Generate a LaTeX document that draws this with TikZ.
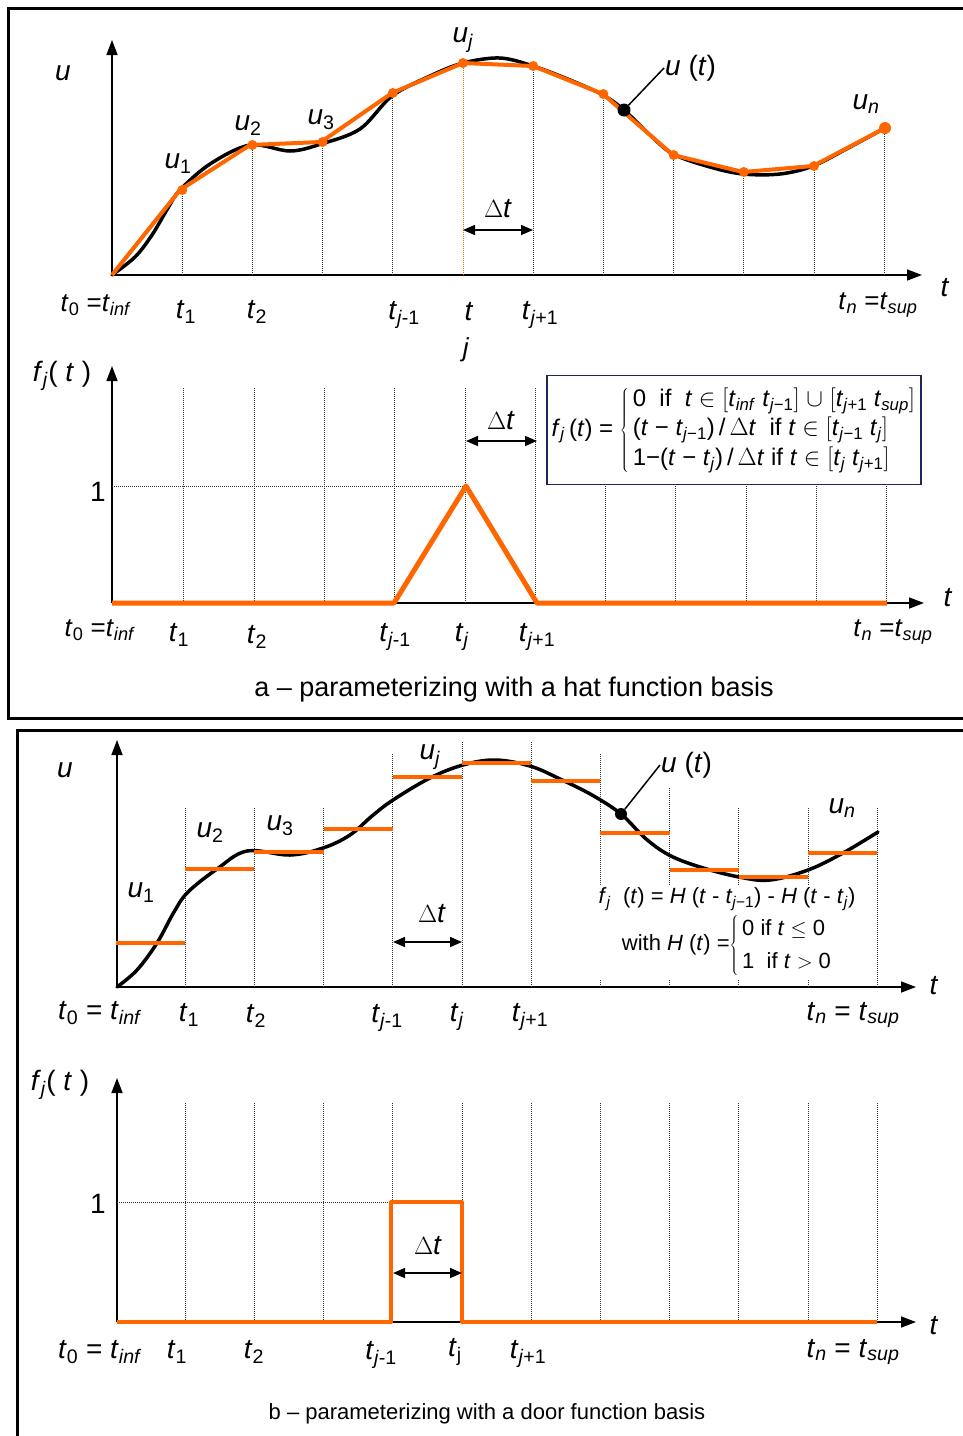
\documentclass[tikz,border=0pt]{standalone}
\usepackage{fontspec}
\setmainfont{Liberation Sans}
\usetikzlibrary{arrows.meta, positioning, calc}
\definecolor{BasisOrange}{HTML}{FF6600}
\definecolor{SignalBlack}{HTML}{000000}
\definecolor{BoxNavy}{HTML}{23235E}
\definecolor{GridGray}{HTML}{333333}
\newcommand{\tvar}[1]{\textit{t}\textsubscript{#1}}
\newcommand{\uvar}[1]{\textit{u}\textsubscript{#1}}
\tikzset{
    panelframe/.style={
        line width=3pt,
        SignalBlack
    },
    axisline/.style={
        line width=1.5pt,
        -{Triangle[length=15pt,width=11pt]}
    },
    gridline/.style={
        densely dotted,
        line width=1pt,
        GridGray
    },
    orangeline/.style={
        line width=4pt,
        BasisOrange,
        line join=round
    },
    ucurve/.style={
        line width=3.5pt,
        SignalBlack,
        line cap=round
    },
    knot/.style={
        circle,
        fill=BasisOrange,
        inner sep=0pt,
        minimum size=10pt
    },
    dtarrow/.style={
        {Triangle[length=12pt,width=10pt]}-{Triangle[length=12pt,width=10pt]},
        line width=1.5pt
    },
    lbl/.style={
        font=\fontsize{28}{32}\selectfont,
        inner sep=1pt
    },
    smalllbl/.style={
        font=\fontsize{26}{30}\selectfont,
        inner sep=1pt
    },
    formula/.style={
        font=\fontsize{22}{26}\selectfont,
        align=left,
        inner sep=2pt
    },
    capt/.style={
        font=\fontsize{27}{31}\selectfont
    }
}

\begin{document}
\begin{tikzpicture}[x=1pt, y=-1pt]
        \useasboundingbox (0,0) rectangle (963,1436);

        % Panel a frame
        \draw[panelframe] (963,8) -- (8,8) -- (8,718) -- (963,718);

        % Panel a, upper graph: axes
        \coordinate (aO) at (112,275);
        \coordinate (aTop) at (112,40);
        \coordinate (aRight) at (922,275);
        \draw[axisline] (aO) -- (aTop);
        \draw[axisline] (aO) -- (aRight);

        % Grid lines up to the knots
        \foreach \k/\y in {1/190, 2/145, 3/142, 4/93, 6/66, 7/94, 8/155, 9/172, 10/166, 11/128}
            \draw[gridline] ({112+70.2*\k},275) -- ({112+70.2*\k},\y);
        \draw[gridline, BasisOrange] (463,275) -- (463,63);

        % Signal u(t) and its piecewise linear approximation
        \draw[ucurve] plot[smooth, tension=0.55] coordinates {(112,275) (135,257) (152,235) (168,208) (180,190)
            (210,164) (250,145) (290,151) (321,144) (360,129) (392,96) (430,76) (463,63) (500,58) (533,66)
            (570,80) (603,95) (624,110) (650,135) (673,154) (710,167) (743,174) (780,174) (813,166)
            (850,147) (885,128)};
        \draw[orangeline] (112,275) -- (180,190) -- (250,145) -- (321,142) -- (392,93) -- (463,63)
            -- (533,66) -- (603,94) -- (673,155) -- (743,172) -- (813,166) -- (885,128);
        \foreach \k/\y in {1/190, 2/145, 3/142, 4/93, 5/63, 6/66, 7/94, 8/155, 9/172, 10/166}
            \node[knot] (ak\k) at ({112+70.2*\k},\y) {};
        \node[knot, minimum size=12pt] (akn) at (885,128) {};
        \node[circle, fill=SignalBlack, inner sep=0pt, minimum size=13pt] (adot) at (624,110) {};

        % Labels of the upper graph
        \node[lbl] (au) at (63,73) {\textit{u}};
        \node[lbl] (au1) at (178,164) {\uvar{1}};
        \node[lbl] (au2) at (248,126) {\uvar{2}};
        \node[lbl] (au3) at (321,120) {\uvar{3}};
        \node[lbl] (auj) at (463,40) {\uvar{\textit{j}}};
        \node[lbl] (aun) at (866,104) {\uvar{\textit{n}}};
        \node[lbl, anchor=west] (aut) at (664,68) {\textit{u} (\textit{t})};
        \draw[line width=1.5pt] (adot) -- (aut.west);
        \node[lbl] (at) at (945,288) {\textit{t}};
        \node[smalllbl] (at0) at (96,305) {\tvar{0} =\tvar{\textit{inf}}};
        \node[lbl] (at1) at (186,312) {\tvar{1}};
        \node[lbl] (at2) at (257,312) {\tvar{2}};
        \node[lbl] (atjm) at (404,315) {\tvar{\textit{j}-1}};
        \node[lbl] (atj) at (469,312) {\textit{t}};
        \node[smalllbl] (atjsub) at (466,350) {\textit{j}};
        \node[lbl] (atjp) at (540,315) {\tvar{\textit{j}+1}};
        \node[smalllbl] (atn) at (878,305) {\tvar{\textit{n}} =\tvar{\textit{sup}}};

        % Time step
        \coordinate (adtl) at (463,230);
        \coordinate (adtr) at (533,230);
        \draw[dtarrow] (adtl) -- (adtr);
        \node[lbl] (adt) at (498,209) {$\Delta$\textit{t}};

        % Panel a, lower graph: axes
        \coordinate (bO) at (112,603);
        \coordinate (bTop) at (112,366);
        \coordinate (bRight) at (924,603);
        \draw[axisline] (bO) -- (bTop);
        \draw[axisline] (bO) -- (bRight);
        \foreach \k in {1,...,11}
            \draw[gridline] ({113.5+70.3*\k},603) -- ({113.5+70.3*\k},388);
        \draw[gridline] (112,486) -- (466,486);

        % Formula box
        \node[draw=BoxNavy, line width=1.5pt, fill=white, minimum width=374pt, minimum height=109pt,
            inner sep=2pt, font=\fontsize{24}{28}\selectfont] (hatbox) at (734,430) {%
            \textit{f}\textsubscript{\textit{j}}\,(\textit{t}) =
            $\left\{\renewcommand{\arraystretch}{1.05}\begin{tabular}{@{\,}l@{}}
            0 \ if \ \textit{t} $\in$ $\bigl[$\tvar{\textit{inf}} \tvar{\textit{j}−1}$\bigr]$ $\cup$ $\bigl[$\tvar{\textit{j}+1} \tvar{\textit{sup}}$\bigr]$\\
            (\textit{t} − \tvar{\textit{j}−1})\,/\,$\Delta$\textit{t} \ if \textit{t} $\in$ $\bigl[$\tvar{\textit{j}−1} \tvar{\textit{j}}$\bigr]$\\
            1−(\textit{t} − \tvar{\textit{j}})\,/\,$\Delta$\textit{t} if \textit{t} $\in$ $\bigl[$\tvar{\textit{j}} \tvar{\textit{j}+1}$\bigr]$
            \end{tabular}\right.$};

        % Hat function
        \draw[orangeline, line width=5pt] (112,603) -- (394,603) -- (466,486) -- (537,603) -- (887,603);
        \coordinate (bdtl) at (466,441);
        \coordinate (bdtr) at (537,441);
        \draw[dtarrow] (bdtl) -- (bdtr);
        \node[lbl] (bdt) at (501,421) {$\Delta$\textit{t}};

        % Labels of the lower graph
        \node[lbl] (bf) at (62,376) {\textit{f}\textsubscript{\textit{j}}( \textit{t} )};
        \node[lbl] (bone) at (98,492) {1};
        \node[lbl] (bt) at (948,598) {\textit{t}};
        \node[smalllbl] (bt0) at (100,630) {\tvar{0} =\tvar{\textit{inf}}};
        \node[lbl] (bt1) at (179,635) {\tvar{1}};
        \node[lbl] (bt2) at (257,637) {\tvar{2}};
        \node[lbl] (btjm) at (395,637) {\tvar{\textit{j}-1}};
        \node[lbl] (btj) at (462,637) {\tvar{\textit{j}}};
        \node[lbl] (btjp) at (537,637) {\tvar{\textit{j}+1}};
        \node[smalllbl] (btn) at (893,632) {\tvar{\textit{n}} =\tvar{\textit{sup}}};
        \node[capt] (capa) at (514,690) {a – parameterizing with a hat function basis};

        % Panel b frame
        \draw[panelframe] (963,730) -- (17,730) -- (17,1436);

        % Panel b, upper graph: axes
        \coordinate (cO) at (117,987);
        \coordinate (cTop) at (117,740);
        \coordinate (cRight) at (916,987);
        \draw[axisline] (cO) -- (cTop);
        \draw[axisline] (cO) -- (cRight);
        \foreach \k/\y in {1/808, 2/808, 3/808, 4/753, 5/741, 6/741, 7/753, 8/787, 9/808, 10/808, 11/808}
            \draw[gridline] ({116+69.2*\k},987) -- ({116+69.2*\k},\y);

        % Signal u(t)
        \draw[ucurve] plot[smooth, tension=0.6] coordinates {(117,987) (137,970) (157,943) (174,912) (188,892)
            (217,869) (247,851) (290,855) (323,848) (350,835) (372,816) (393,800) (430,778) (463,765)
            (495,760) (530,766) (560,779) (592,795) (621,814) (645,838) (669,855) (700,867) (739,877)
            (770,880) (808,870) (843,853) (878,832)};
        \node[circle, fill=SignalBlack, inner sep=0pt, minimum size=12pt] (cdot) at (621,814) {};

        % Door function approximation
        \foreach \k/\y in {0/943, 1/869, 2/852, 3/829, 4/777, 5/763, 6/781, 7/833, 8/870, 9/877, 10/853}
            \draw[orangeline, line cap=butt] ({116+69.2*\k},\y) -- ({116+69.2*(\k+1)},\y);

        % Formula with the Heaviside function
        \node[formula, fill=white, minimum width=292pt, align=center] (heav) at (727,933) {%
            \textit{f}\textsubscript{\textit{j}} \ (\textit{t}) = \textit{H} (\textit{t} - \tvar{\textit{j}−1}) - \textit{H} (\textit{t} - \tvar{\textit{j}})\\[1pt]
            with \textit{H} (\textit{t}) =$\left\{\renewcommand{\arraystretch}{1.25}\begin{tabular}{@{\,}l@{}}
            0 if \textit{t} $\leq$ 0\\ 1 \ if \textit{t} $>$ 0\end{tabular}\right.$};

        % Labels of the upper graph
        \node[lbl] (cu) at (65,770) {\textit{u}};
        \node[lbl] (cu1) at (141,893) {\uvar{1}};
        \node[lbl] (cu2) at (210,833) {\uvar{2}};
        \node[lbl] (cu3) at (280,826) {\uvar{3}};
        \node[lbl] (cuj) at (430,757) {\uvar{\textit{j}}};
        \node[lbl] (cun) at (842,808) {\uvar{\textit{n}}};
        \node[lbl, anchor=west] (cut) at (660,765) {\textit{u} (\textit{t})};
        \draw[line width=1.5pt] (cdot) -- (cut.west);
        \node[lbl] (ct) at (934,986) {\textit{t}};
        \coordinate (cdtl) at (393,942);
        \coordinate (cdtr) at (462,942);
        \draw[dtarrow] (cdtl) -- (cdtr);
        \node[lbl] (cdt) at (432,914) {$\Delta$\textit{t}};
        \node[lbl] (ct0) at (100,1013) {\tvar{0} = \tvar{\textit{inf}}};
        \node[lbl] (ct1) at (189,1015) {\tvar{1}};
        \node[lbl] (ct2) at (256,1016) {\tvar{2}};
        \node[lbl] (ctjm) at (387,1018) {\tvar{\textit{j}-1}};
        \node[lbl] (ctj) at (457,1017) {\tvar{\textit{j}}};
        \node[lbl] (ctjp) at (530,1017) {\tvar{\textit{j}+1}};
        \node[lbl] (ctn) at (853,1015) {\tvar{\textit{n}} = \tvar{\textit{sup}}};

        % Panel b, lower graph: axes
        \coordinate (dO) at (117,1322);
        \coordinate (dTop) at (117,1078);
        \coordinate (dRight) at (916,1322);
        \draw[axisline] (dO) -- (dTop);
        \draw[axisline] (dO) -- (dRight);
        \foreach \k in {1,...,11}
            \draw[gridline] ({116+69.2*\k},1322) -- ({116+69.2*\k},1102);
        \draw[gridline] (117,1202) -- (391,1202);

        % Door function
        \draw[orangeline] (117,1322) -- (391,1322) -- (391,1202) -- (462,1202) -- (462,1322) -- (877,1322);
        \coordinate (ddtl) at (393,1273);
        \coordinate (ddtr) at (462,1273);
        \draw[dtarrow] (ddtl) -- (ddtr);
        \node[lbl] (ddt) at (428,1246) {$\Delta$\textit{t}};

        % Labels of the lower graph
        \node[lbl] (df) at (60,1085) {\textit{f}\textsubscript{\textit{j}}( \textit{t} )};
        \node[lbl] (done) at (98,1204) {1};
        \node[lbl] (dt) at (934,1326) {\textit{t}};
        \node[lbl] (dt0) at (100,1352) {\tvar{0} = \tvar{\textit{inf}}};
        \node[lbl] (dt1) at (177,1352) {\tvar{1}};
        \node[lbl] (dt2) at (254,1352) {\tvar{2}};
        \node[lbl] (dtjm) at (381,1355) {\tvar{\textit{j}-1}};
        \node[lbl] (dtj) at (455,1352) {\tvar{j}};
        \node[lbl] (dtjp) at (528,1354) {\tvar{\textit{j}+1}};
        \node[lbl] (dtn) at (853,1352) {\tvar{\textit{n}} = \tvar{\textit{sup}}};
        \node[capt, font=\fontsize{22}{26}\selectfont] (capb) at (487,1414) {b – parameterizing with a door function basis};
    \end{tikzpicture}
\end{document}
